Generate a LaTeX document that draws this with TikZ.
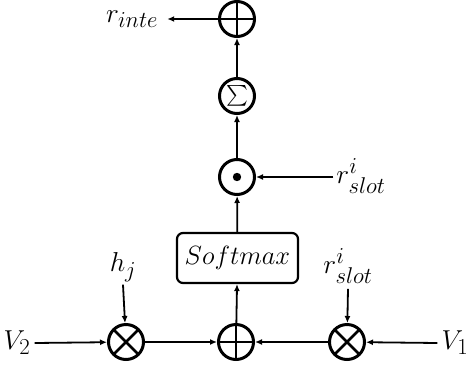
\documentclass[tikz,border=0pt]{standalone}
\usepackage{graphicx}
\usepackage{exscale}
\usetikzlibrary{arrows.meta}
\newcommand{\lblmath}[1]{\scalebox{1.1}{$#1$}}
\begin{document}
\begin{tikzpicture}[x=1pt,y=-1pt,
  lbl/.style={inner sep=0pt,font=\fontsize{24.88}{28}\selectfont},
  opcirc/.style={circle,draw,line width=3pt,minimum size=35pt,inner sep=0pt},
  opplus/.style={opcirc,path picture={
     \draw[line width=2.6pt] (path picture bounding box.north)--(path picture bounding box.south)
       (path picture bounding box.west)--(path picture bounding box.east);}},
  optimes/.style={opcirc,path picture={
     \draw[line width=2.6pt] (path picture bounding box.north west)--(path picture bounding box.south east)
       (path picture bounding box.south west)--(path picture bounding box.north east);}},
  opdot/.style={opcirc,path picture={
     \fill (path picture bounding box.center) circle[radius=4.2pt];}},
  arr/.style={-{Latex[length=7pt,width=6pt]},line width=1.8pt},
  boxst/.style={draw,line width=2.2pt,rounded corners=6pt,minimum width=121pt,minimum height=50pt,inner sep=0pt,font=\fontsize{24.88}{28}\selectfont}
]
\useasboundingbox (0,0) rectangle (468,367);
% operators
\node[opplus] (ptop) at (237,19) {};
\node[opcirc,font=\fontsize{22}{24}\selectfont] (sig) at (237,96) {$\sum$};
\node[opdot] (odot) at (237,177) {};
\node[boxst] (soft) at (237.5,258) {\scalebox{1.06}{$Softmax$}};
\node[opplus] (pmid) at (236,342) {};
\node[optimes] (tl) at (126,342) {};
\node[optimes] (tr) at (347,342) {};
% labels
\node[lbl] (v2) at (17,343) {\lblmath{V_2}};
\node[lbl] (v1) at (455,343) {\lblmath{V_1}};
\node[lbl] (hj) at (123,267) {\lblmath{h_j}};
\node[lbl] (rs1) at (348,266) {\lblmath{r^{i}_{slot}}};
\node[lbl] (rs2) at (361,176) {\lblmath{r^{i}_{slot}}};
\node[lbl] (rinte) at (132,19) {\lblmath{r_{inte}}};
% connectors
\coordinate (v2e) at ([xshift=4pt]v2.east);
\draw[arr] (v2e) -- (tl);
\draw[arr] (tl) -- (pmid);
\draw[arr] (tr) -- (pmid);
\draw[arr] ([xshift=-4pt]v1.west) -- (tr);
\draw[arr] ([yshift=-3pt]hj.south) -- (tl);
\draw[arr] ([yshift=-5pt]rs1.south) -- (tr);
\draw[arr] (pmid) -- (soft);
\draw[arr] (soft) -- (odot);
\draw[arr] ([xshift=-3pt]rs2.west |- odot) -- (odot);
\draw[arr] (odot) -- (sig);
\draw[arr] (sig) -- (ptop);
\draw[arr] (ptop) -- ([xshift=9pt]rinte.east |- ptop);
\end{tikzpicture}
\end{document}
